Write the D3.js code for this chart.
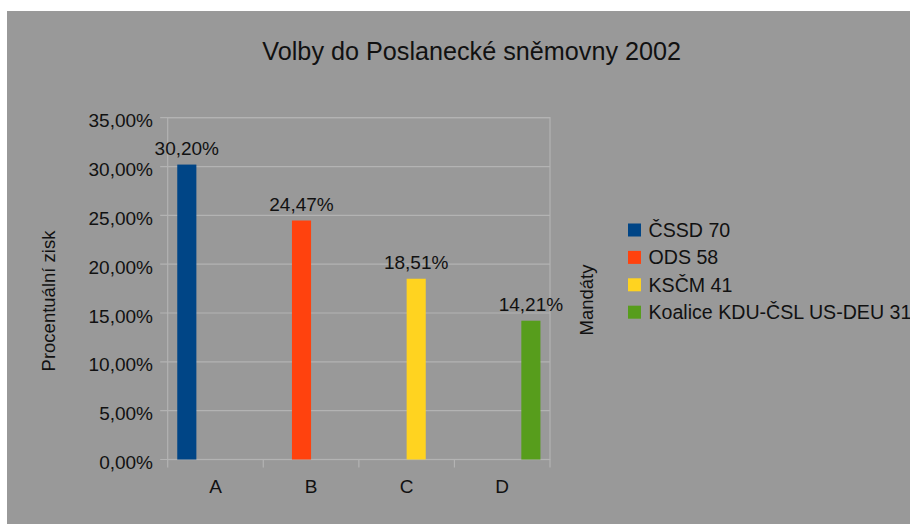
<!DOCTYPE html>
<html>
<head>
<meta charset="utf-8">
<script src="https://cdn.jsdelivr.net/npm/d3@7"></script>
<style>
  html, body { margin: 0; padding: 0; background: #fff; }
  svg { display: block; font-family: "Liberation Sans", Arial, sans-serif; }
</style>
</head>
<body>
<svg id="chart" width="910" height="524"></svg>
<script>
// chart data
const title = "Volby do Poslanecké sněmovny 2002";
const categories = ["A", "B", "C", "D"];
const seriesNames = ["ČSSD 70", "ODS 58", "KSČM 41", "Koalice KDU-ČSL US-DEU 31"];
const seriesColors = ["#004586", "#ff420e", "#ffd320", "#579d1c"];
// each party only has a value in its own category
const values = [30.20, 24.47, 18.51, 14.21];
const yTicks = [0, 5, 10, 15, 20, 25, 30, 35];
const yTitle = "Procentuální zisk";
const y2Title = "Mandáty";

const fmt = v => v.toFixed(2).replace(".", ",") + "%";

const svg = d3.select("#chart");

// gray page background
svg.append("rect")
  .attr("x", 7).attr("y", 11)
  .attr("width", 910).attr("height", 524)
  .attr("fill", "#999999");

const plot = { left: 167.7, right: 550, top: 117.7, bottom: 459.5 };
const grid = "#b3b3b3";

// Create the X band scale (categories) and inner one for series slots
const x = d3.scaleBand()
  .domain(categories)
  .range([plot.left, plot.right])
  .padding(0);

const x1 = d3.scaleBand()
  .domain(d3.range(seriesNames.length))
  .range([x.bandwidth() * 0.1, x.bandwidth() * 0.9])
  .padding(0);

const y = d3.scaleLinear()
  .domain([0, 35])
  .range([plot.bottom, plot.top]);

// Gridlines
svg.append("g")
  .selectAll("line")
  .data(yTicks)
  .enter()
  .append("line")
  .attr("x1", plot.left - 7.5)
  .attr("x2", plot.right)
  .attr("y1", d => y(d))
  .attr("y2", d => y(d))
  .attr("stroke", grid)
  .attr("stroke-width", 1.2);

// plot outline
svg.append("rect")
  .attr("x", plot.left).attr("y", plot.top)
  .attr("width", plot.right - plot.left)
  .attr("height", plot.bottom - plot.top)
  .attr("fill", "none")
  .attr("stroke", grid)
  .attr("stroke-width", 1.2);

// Y tick labels
svg.append("g")
  .selectAll("text")
  .data(yTicks)
  .enter()
  .append("text")
  .attr("x", 153)
  .attr("y", d => y(d) + 9.5)
  .attr("text-anchor", "end")
  .attr("font-size", 19)
  .attr("fill", "#111")
  .text(d => fmt(d));

// X ticks at band boundaries
const xEdges = categories.map(c => x(c)).concat([plot.right]);
svg.append("g")
  .selectAll("line")
  .data(xEdges)
  .enter()
  .append("line")
  .attr("x1", d => d).attr("x2", d => d)
  .attr("y1", plot.bottom)
  .attr("y2", plot.bottom + 8)
  .attr("stroke", grid)
  .attr("stroke-width", 1.2);

svg.append("g")
  .selectAll("text")
  .data(categories)
  .enter()
  .append("text")
  .attr("x", d => x(d) + x.bandwidth() / 2)
  .attr("y", 493)
  .attr("text-anchor", "middle")
  .attr("font-size", 19)
  .attr("fill", "#111")
  .text(d => d);

// bars
const bars = values.map((v, i) => ({ cat: categories[i], s: i, v: v }));

svg.append("g")
  .selectAll("rect")
  .data(bars)
  .enter()
  .append("rect")
  .attr("x", d => x(d.cat) + x1(d.s))
  .attr("y", d => y(d.v))
  .attr("width", x1.bandwidth())
  .attr("height", d => plot.bottom - y(d.v))
  .attr("fill", d => seriesColors[d.s]);

// value labels
svg.append("g")
  .selectAll("text")
  .data(bars)
  .enter()
  .append("text")
  .attr("x", d => x(d.cat) + x1(d.s) + x1.bandwidth() / 2)
  .attr("y", d => y(d.v) - 10)
  .attr("text-anchor", "middle")
  .attr("font-size", 19)
  .attr("fill", "#111")
  .text(d => fmt(d.v));

// title
svg.append("text")
  .attr("x", 471.7)
  .attr("y", 60)
  .attr("text-anchor", "middle")
  .attr("font-size", 25.2)
  .attr("fill", "#111")
  .text(title);

// axis titles
svg.append("text")
  .attr("transform", "translate(55,301)rotate(-90)")
  .attr("text-anchor", "middle")
  .attr("font-size", 18.5)
  .attr("fill", "#111")
  .text(yTitle);

svg.append("text")
  .attr("transform", "translate(593,300)rotate(-90)")
  .attr("text-anchor", "middle")
  .attr("font-size", 18.5)
  .attr("fill", "#111")
  .text(y2Title);

// legend
const legend = svg.append("g")
  .selectAll("g")
  .data(seriesNames)
  .enter()
  .append("g")
  .attr("transform", (d, i) => "translate(628," + (230 + i * 27.4) + ")");

legend.append("rect")
  .attr("x", 0).attr("y", -6.5)
  .attr("width", 13).attr("height", 13)
  .attr("fill", (d, i) => seriesColors[i]);

legend.append("text")
  .attr("x", 20.5)
  .attr("y", 7)
  .attr("font-size", 19.6)
  .attr("fill", "#111")
  .text(d => d);
</script>
</body>
</html>
